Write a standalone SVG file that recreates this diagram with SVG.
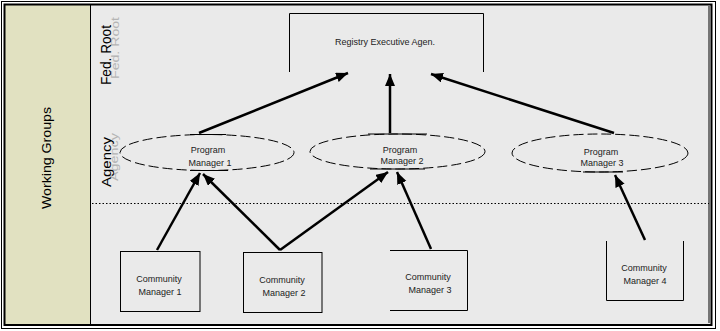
<svg xmlns="http://www.w3.org/2000/svg" width="720" height="331" viewBox="0 0 720 331">
<defs>
<style>
.lbl{font-family:"Liberation Sans",Arial,sans-serif;font-size:9px;fill:#222;text-anchor:middle}
.side{font-family:"Liberation Sans",Arial,sans-serif;font-size:13px;fill:#000;text-anchor:middle}
.ghost{font-family:"Liberation Sans",Arial,sans-serif;font-size:10px;fill:#b4b4b4;text-anchor:middle}
.box{fill:none;stroke:#000;stroke-width:1}
.ell{fill:none;stroke:#000;stroke-width:1;stroke-dasharray:10,4}
.seg{stroke:#000;stroke-width:1}
.arr{stroke:#000;stroke-width:2.5;fill:none;marker-end:url(#ah)}
</style>
<marker id="ah" markerUnits="userSpaceOnUse" markerWidth="13" markerHeight="11" refX="12" refY="5" orient="auto">
<path d="M0,0 L12,5 L0,10 z" fill="#000"/>
</marker>
</defs>
<rect x="0" y="0" width="720" height="331" fill="#ffffff"/>
<rect x="5" y="5" width="706" height="320" fill="#eaeaea"/>
<rect x="5" y="5" width="85" height="320" fill="#e1e1c1"/>
<line x1="90.5" y1="5" x2="90.5" y2="325" stroke="#000" stroke-width="1"/>
<rect x="1.5" y="1.5" width="714" height="327" fill="none" stroke="#000" stroke-width="1"/>
<rect x="4.5" y="4.5" width="707" height="320.5" fill="none" stroke="#000" stroke-width="2"/>
<line x1="709" y1="6" x2="709" y2="323" stroke="#000" stroke-width="1"/>
<line x1="92" y1="203.5" x2="709" y2="203.5" stroke="#000" stroke-width="1" stroke-dasharray="1.5,2"/>

<g id="lane-labels">
<text class="side" transform="translate(51,158) rotate(-90)" textLength="102" lengthAdjust="spacingAndGlyphs">Working Groups</text>
<text class="ghost" transform="translate(118.5,48) rotate(-90)" textLength="62" lengthAdjust="spacingAndGlyphs">Fed. Root</text>
<text class="side" style="font-size:14px" transform="translate(110.5,55) rotate(-90)" textLength="60" lengthAdjust="spacingAndGlyphs">Fed. Root</text>
<text class="ghost" transform="translate(118,157) rotate(-90)" textLength="48" lengthAdjust="spacingAndGlyphs">Agency</text>
<text class="side" transform="translate(111,162) rotate(-90)" textLength="50" lengthAdjust="spacingAndGlyphs">Agency</text>
</g>

<g id="registry">
<path class="box" d="M289.5,72 V13.5 H483.5 V72"/>
<text class="lbl" x="385" y="45">Registry Executive Agen.</text>
</g>

<g id="pm1">
<ellipse class="ell" cx="207" cy="152.5" rx="87" ry="18"/>
<line class="seg" x1="190" y1="134.5" x2="226" y2="134.5"/>
<line class="seg" x1="190" y1="170.5" x2="228" y2="170.5"/>
<text class="lbl" x="208" y="153">Program</text>
<text class="lbl" x="210" y="166">Manager 1</text>
</g>
<g id="pm2">
<ellipse class="ell" cx="397.5" cy="151.5" rx="87.5" ry="17.5"/>
<line class="seg" x1="368" y1="134" x2="427" y2="134"/>
<line class="seg" x1="370" y1="169" x2="425" y2="169"/>
<text class="lbl" x="400" y="153">Program</text>
<text class="lbl" x="402" y="164">Manager 2</text>
</g>
<g id="pm3">
<ellipse class="ell" cx="600" cy="153" rx="88" ry="19"/>
<line class="seg" x1="583" y1="172" x2="623" y2="172"/>
<text class="lbl" x="601" y="155">Program</text>
<text class="lbl" x="602" y="166">Manager 3</text>
</g>

<g id="cm1">
<rect class="box" x="120.5" y="251.5" width="79.5" height="60"/>
<text class="lbl" x="159" y="282">Community</text>
<text class="lbl" x="160" y="295">Manager 1</text>
</g>
<g id="cm2">
<rect class="box" x="243.5" y="252.5" width="78.5" height="60"/>
<text class="lbl" x="282" y="283">Community</text>
<text class="lbl" x="284" y="296">Manager 2</text>
</g>
<g id="cm3">
<path class="box" d="M390,250.5 H467.5 V310.5 H390"/>
<text class="lbl" x="428" y="280">Community</text>
<text class="lbl" x="430" y="293">Manager 3</text>
</g>
<g id="cm4">
<path class="box" d="M606.5,241 V300.5 H683.5 V241"/>
<text class="lbl" x="644" y="271">Community</text>
<text class="lbl" x="645" y="284">Manager 4</text>
</g>

<g id="connectors">
<line class="arr" x1="199" y1="133" x2="348" y2="73"/>
<line class="arr" x1="390" y1="133" x2="390" y2="74"/>
<line class="arr" x1="614" y1="133" x2="431" y2="74"/>
<line class="arr" x1="157" y1="250" x2="200" y2="173"/>
<line class="arr" x1="280" y1="250" x2="203" y2="174"/>
<line class="arr" x1="280" y1="250" x2="388" y2="172"/>
<line class="arr" x1="431" y1="249" x2="397" y2="172"/>
<line class="arr" x1="645" y1="240" x2="615" y2="175"/>
</g>
</svg>
